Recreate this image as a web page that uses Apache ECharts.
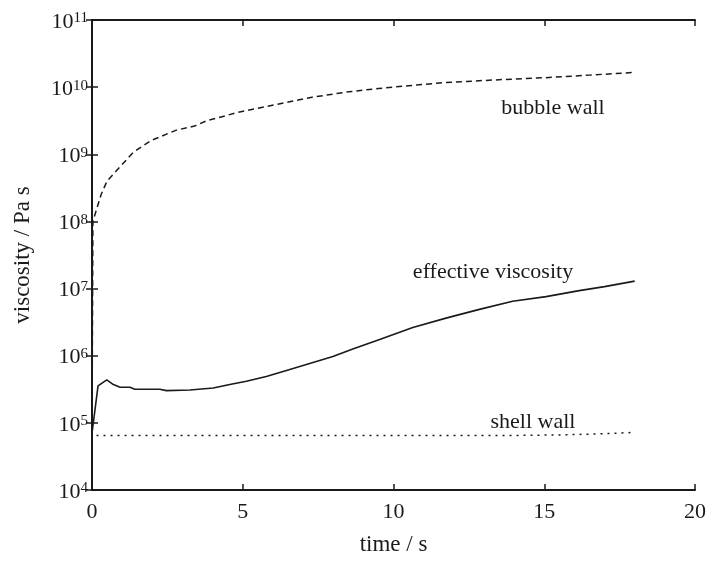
<!DOCTYPE html>
<html>
<head>
<meta charset="utf-8">
<script src="https://cdn.jsdelivr.net/npm/echarts@6/dist/echarts.min.js"></script>
<style>
  html, body { margin: 0; padding: 0; background: #fff; }
  #chart { width: 709px; height: 561px; }
</style>
</head>
<body>
<div id="chart"></div>
<script>
// Viscosity histories (time in s, viscosity in Pa s)
const bubbleTime = [0, 0.03, 0.3, 0.5, 0.9, 1.37, 1.98, 2.8, 3.4, 3.8, 4.9, 6.2, 7.3, 8.5, 9.5, 10.5, 11.7, 13.5, 15.0, 16.5, 18.0];
const bubbleVisc = [6.3e4, 1.0e8, 2.5e8, 4.0e8, 6.3e8, 1.07e9, 1.62e9, 2.29e9, 2.63e9, 3.16e9, 4.27e9, 5.62e9, 7.08e9, 8.51e9, 9.55e9, 1.05e10, 1.17e10, 1.29e10, 1.38e10, 1.51e10, 1.66e10];

const effTime = [0, 0.2, 0.49, 0.71, 0.93, 1.26, 1.42, 2.25, 2.47, 3.25, 4.02, 4.57, 5.12, 5.78, 6.45, 7.33, 7.99, 8.65, 9.54, 10.64, 11.74, 12.85, 13.95, 15.06, 16.16, 17.0, 18.0];
const effVisc = [7.0e4, 3.55e5, 4.37e5, 3.72e5, 3.39e5, 3.39e5, 3.16e5, 3.16e5, 3.02e5, 3.09e5, 3.31e5, 3.72e5, 4.17e5, 4.90e5, 6.03e5, 7.94e5, 9.77e5, 1.26e6, 1.74e6, 2.63e6, 3.63e6, 4.90e6, 6.46e6, 7.59e6, 9.33e6, 1.07e7, 1.29e7];

const shellTime = [0.15, 14.0, 15.5, 16.5, 17.3, 18.0];
const shellVisc = [6.5e4, 6.5e4, 6.6e4, 6.8e4, 7.0e4, 7.2e4];

const xTicks = [0, 5, 10, 15, 20];
const yExponents = [4, 5, 6, 7, 8, 9, 10, 11];

const curveLabels = [
  { text: 'bubble wall', x: 553, y: 108 },
  { text: 'effective viscosity', x: 493, y: 272 },
  { text: 'shell wall', x: 533, y: 422 }
];

const FONT = '"Liberation Serif", "DejaVu Serif", serif';
const INK = '#1a1a1a';

const zip = (a, b) => a.map((v, i) => [v, b[i]]);

const chart = echarts.init(document.getElementById('chart'));

const axisLine = { show: true, lineStyle: { color: INK, width: 2 } };
const tickIn = { show: true, inside: true, length: 6, lineStyle: { color: INK, width: 1.5 } };

chart.setOption({
  animation: false,
  backgroundColor: '#fff',
  grid: { left: 92, right: 13, top: 20, bottom: 65, containLabel: false },
  xAxis: [
    {
      type: 'value', min: xTicks[0], max: xTicks[xTicks.length - 1], interval: 5,
      name: 'time / s', nameLocation: 'middle', nameGap: 43,
      nameTextStyle: { fontFamily: FONT, fontSize: 23, color: INK },
      axisLine, axisTick: tickIn, splitLine: { show: false },
      axisLabel: { fontFamily: FONT, fontSize: 22, color: INK, margin: 11 }
    },
    {
      type: 'value', position: 'top', min: xTicks[0], max: xTicks[xTicks.length - 1], interval: 5,
      axisLine, axisTick: tickIn, splitLine: { show: false }, axisLabel: { show: false }
    }
  ],
  yAxis: [
    {
      type: 'log', logBase: 10,
      min: Math.pow(10, yExponents[0]), max: Math.pow(10, yExponents[yExponents.length - 1]),
      interval: 1,
      name: 'viscosity / Pa s', nameLocation: 'middle', nameGap: 58,
      nameTextStyle: { fontFamily: FONT, fontSize: 23, color: INK },
      axisLine, axisTick: tickIn, splitLine: { show: false }, minorTick: { show: false },
      axisLabel: {
        margin: 4,
        padding: [4, 0, 0, 0],
        formatter: v => '{b|10}{s|' + Math.round(Math.log10(v)) + '}',
        rich: {
          b: { fontFamily: FONT, fontSize: 22, color: INK, verticalAlign: 'bottom' },
          s: { fontFamily: FONT, fontSize: 15, color: INK, verticalAlign: 'bottom', padding: [0, 0, 7, 0] }
        }
      }
    },
    {
      type: 'log', logBase: 10, position: 'right',
      min: Math.pow(10, yExponents[0]), max: Math.pow(10, yExponents[yExponents.length - 1]),
      interval: 1,
      axisLine, axisTick: tickIn, splitLine: { show: false }, minorTick: { show: false },
      axisLabel: { show: false }
    }
  ],
  series: [
    {
      name: 'bubble wall', type: 'line', showSymbol: false, data: zip(bubbleTime, bubbleVisc),
      lineStyle: { color: INK, width: 1.5, type: [6, 4] }
    },
    {
      name: 'effective viscosity', type: 'line', showSymbol: false, data: zip(effTime, effVisc),
      lineStyle: { color: INK, width: 1.6, type: 'solid' }
    },
    {
      name: 'shell wall', type: 'line', showSymbol: false, data: zip(shellTime, shellVisc),
      lineStyle: { color: INK, width: 1.5, type: [2, 5] }
    }
  ],
  graphic: curveLabels.map(l => ({
    type: 'text', x: l.x, y: l.y,
    style: { text: l.text, fontFamily: FONT, fontSize: 22, fill: INK, align: 'center', verticalAlign: 'middle' }
  }))
});
</script>
</body>
</html>
